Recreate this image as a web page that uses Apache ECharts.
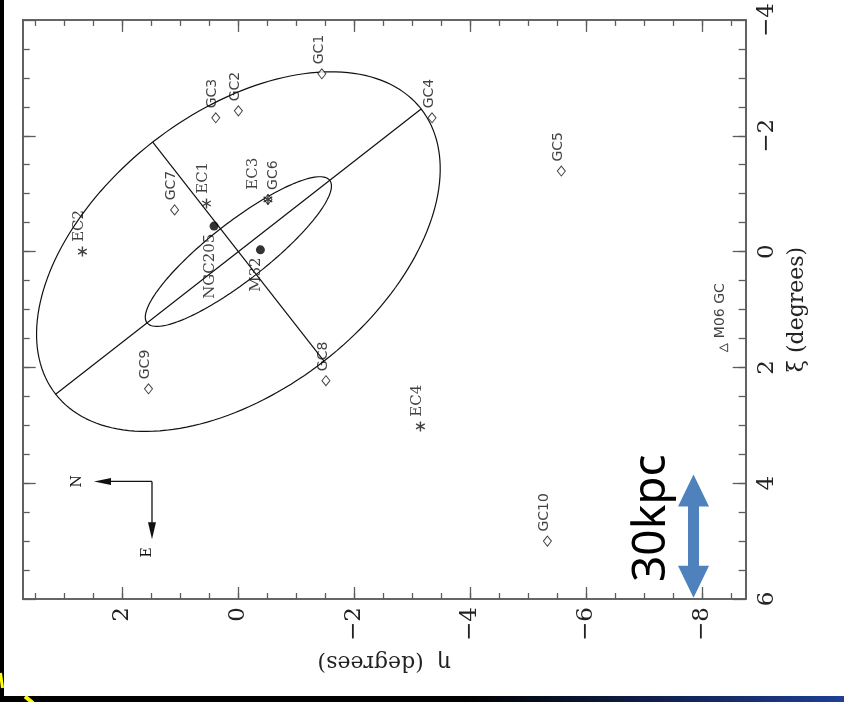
<!DOCTYPE html>
<html><head><meta charset="utf-8">
<script src="https://cdn.jsdelivr.net/npm/echarts@6/dist/echarts.min.js"></script>
<style>html,body{margin:0;padding:0;background:#000;} #c{width:844px;height:702px;}</style>
</head><body><div id="c"></div>
<script>
// ---------------- data (degrees) ----------------
const gcNames = ['GC1','GC2','GC3','GC4','GC5','GC6','GC7','GC8','GC9','GC10'];
const gcEta   = [-1.44, 0.00, 0.39, -3.34, -5.57, -0.51, 1.10, -1.51, 1.55, -5.33];
const gcXi    = [-3.07, -2.43, -2.31, -2.31, -1.39, -0.90, -0.72, 2.23, 2.37, 5.00];
const ecNames = ['EC1','EC2','EC3','EC4'];
const ecEta   = [0.55, 2.69, -0.51, -3.14];
const ecXi    = [-0.83, 0.00, -0.90, 3.02];
const galNames = ['NGC205','M32'];
const galEta   = [0.42, -0.38];
const galXi    = [-0.44, -0.03];
const m06Names = ['M06 GC'];
const m06Eta   = [-8.37];
const m06Xi    = [1.66];
// ellipses: outer halo & inner disk (semi-axes in degrees, position angle in degrees)
const ellipseSemiMajor = [4.0, 2.0];
const ellipseSemiMinor = [2.4, 0.5];
const ellipsePA = 38;
// axes
const etaRange = [-8.75, 3.72];
const xiRange  = [-4, 6];
const etaMajorTicks = [2, 0, -2, -4, -6, -8];
const xiMajorTicks  = [-4, -2, 0, 2, 4, 6];
// annotations
const compassOrigin = [1.49, 3.97];   // [eta, xi]
const compassLen = 1.0;               // degrees
const scaleBarEta = -7.85;
const scaleBarXi = [3.85, 5.98];
const scaleBarText = '30kpc';

// ---------------- helpers ----------------
const etaMinorTicks = []; for (let v = -8.5; v <= 3.5001; v += 0.5) etaMinorTicks.push(+v.toFixed(2));
const xiMinorTicks = [];  for (let v = -3.5; v <= 5.5001; v += 0.5) xiMinorTicks.push(+v.toFixed(2));
const fmt = v => (v < 0 ? '\u2212' + Math.abs(v) : String(v));
const frameColor = '#5c5c5c';
const serif = '"DejaVu Serif", "Liberation Serif", serif';
const sans = '"DejaVu Sans", sans-serif';

function mkAxis(pos, range, inverse, ticks, len, withLabels, extra) {
  const ax = {
    type: 'value', position: pos, min: range[0], max: range[1], inverse: inverse,
    axisLine: { show: true, onZero: false, lineStyle: { color: frameColor, width: 1.6 } },
    axisTick: { show: true, inside: true, length: len, customValues: ticks, lineStyle: { color: frameColor, width: 1.3 } },
    axisLabel: { show: false },
    splitLine: { show: false }
  };
  if (withLabels) {
    ax.axisLabel = { show: true, customValues: ticks, rotate: 90, margin: withLabels.margin,
      fontFamily: serif, fontSize: 23, color: '#222', formatter: fmt };
  }
  return Object.assign(ax, extra || {});
}

const xAxes = [
  mkAxis('bottom', etaRange, true, etaMajorTicks, 12, { margin: 8 }, {
    name: '\u03b7  (degrees)', nameLocation: 'middle', nameRotate: 180, nameGap: 52,
    nameTextStyle: { fontFamily: serif, fontSize: 22, color: '#222' } }),
  mkAxis('bottom', etaRange, true, etaMinorTicks, 6, null),
  mkAxis('top', etaRange, true, etaMajorTicks, 12, null),
  mkAxis('top', etaRange, true, etaMinorTicks, 6, null)
];
const yAxes = [
  mkAxis('right', xiRange, true, xiMajorTicks, 13, { margin: 10 }, {
    name: '\u03be (degrees)', nameLocation: 'middle', nameRotate: 90, nameGap: 38,
    nameTextStyle: { fontFamily: serif, fontSize: 22, color: '#222' } }),
  mkAxis('right', xiRange, true, xiMinorTicks, 7, null),
  mkAxis('left', xiRange, true, xiMajorTicks, 13, null),
  mkAxis('left', xiRange, true, xiMinorTicks, 7, null)
];

function ellipsePts(a, b, pa) {
  const s = Math.sin(pa * Math.PI / 180), c = Math.cos(pa * Math.PI / 180), pts = [];
  for (let i = 0; i <= 360; i += 2) {
    const t = i * Math.PI / 180, u = a * Math.cos(t), w = b * Math.sin(t);
    pts.push([u * c - w * s, u * s + w * c]);   // [eta, xi]
  }
  return pts;
}
const sPA = Math.sin(ellipsePA * Math.PI / 180), cPA = Math.cos(ellipsePA * Math.PI / 180);
const A0 = ellipseSemiMajor[0], B0 = ellipseSemiMinor[0];
const majorLine = [[-A0 * cPA, -A0 * sPA], [A0 * cPA, A0 * sPA]];
const minorLine = [[B0 * sPA, -B0 * cPA], [-B0 * sPA, B0 * cPA]];

const labelShift = { EC3: [0, -15], GC6: [0, 5] };
function items(names, eta, xi) {
  return names.map((n, i) => {
    const it = { name: n, value: [eta[i], xi[i]] };
    if (labelShift[n]) it.label = { offset: labelShift[n] };
    return it;
  });
}
const upLabel = (font, size, dist) => ({
  show: true, formatter: '{b}', position: 'top', distance: dist, rotate: 90,
  align: 'left', verticalAlign: 'middle', offset: [0, -3],
  fontFamily: font, fontSize: size, color: '#111'
});
const lineStyle = { color: '#111', width: 1.2 };
const lineSeries = (data) => ({ type: 'line', data: data, symbol: 'none', silent: true,
  lineStyle: lineStyle, xAxisIndex: 0, yAxisIndex: 0, z: 2, animation: false });
const asteriskPath = 'path://M5,0L5,10M0.67,2.5L9.33,7.5M0.67,7.5L9.33,2.5';

const series = [
  lineSeries(ellipsePts(ellipseSemiMajor[0], ellipseSemiMinor[0], ellipsePA)),
  lineSeries(ellipsePts(ellipseSemiMajor[1], ellipseSemiMinor[1], ellipsePA)),
  lineSeries(majorLine),
  lineSeries(minorLine),
  { type: 'scatter', data: items(gcNames, gcEta, gcXi), symbol: 'diamond', symbolSize: [8, 10],
    itemStyle: { color: '#fff', borderColor: '#111', borderWidth: 1 }, label: upLabel(sans, 14, 4), z: 5 },
  { type: 'scatter', data: items(ecNames, ecEta, ecXi), symbol: asteriskPath, symbolSize: 10, symbolKeepAspect: true,
    itemStyle: { color: 'rgba(0,0,0,0)', borderColor: '#111', borderWidth: 1.4 }, label: upLabel(serif, 15, 4), z: 6 },
  { type: 'scatter', data: items(galNames, galEta, galXi), symbol: 'circle', symbolSize: 9,
    itemStyle: { color: '#000' }, z: 6,
    label: { show: true, formatter: '{b}', position: 'bottom', distance: 3, rotate: 90,
      align: 'right', verticalAlign: 'middle', offset: [0, -4], fontFamily: serif, fontSize: 15, color: '#111' } },
  { type: 'scatter', data: items(m06Names, m06Eta, m06Xi), symbol: 'triangle', symbolSize: 8, symbolRotate: 90,
    itemStyle: { color: '#fff', borderColor: '#111', borderWidth: 1 }, label: upLabel(sans, 14, 5), z: 5 }
];

const chart = echarts.init(document.getElementById('c'), null, { renderer: 'canvas', width: 844, height: 702 });
chart.setOption({
  animation: false,
  backgroundColor: 'transparent',
  grid: { left: 22.7, right: 98.3, top: 19, bottom: 103, containLabel: false },
  xAxis: xAxes,
  yAxis: yAxes,
  series: series
});

// ---------------- decorations ----------------
const P = (eta, xi) => chart.convertToPixel({ xAxisIndex: 0, yAxisIndex: 0 }, [eta, xi]);
const O = P(compassOrigin[0], compassOrigin[1]);
const Nt = P(compassOrigin[0] + compassLen, compassOrigin[1]);
const Et = P(compassOrigin[0], compassOrigin[1] + compassLen);
const T = P(scaleBarEta, scaleBarXi[0]);
const Bt = P(scaleBarEta, scaleBarXi[1]);
const xc = T[0], hl = 32, hw = 15.5, sw = 5.5;
const arrowPts = [[xc, T[1]], [xc + hw, T[1] + hl], [xc + sw, T[1] + hl], [xc + sw, Bt[1] - hl], [xc + hw, Bt[1] - hl],
  [xc, Bt[1]], [xc - hw, Bt[1] - hl], [xc - sw, Bt[1] - hl], [xc - sw, T[1] + hl], [xc - hw, T[1] + hl]];
const bottomGradient = { type: 'linear', x: 0, y: 0, x2: 1, y2: 0, colorStops: [
  { offset: 0, color: '#000' }, { offset: 0.55, color: '#000' }, { offset: 1, color: '#1f3f96' }] };

chart.setOption({
  graphic: [
    { type: 'rect', z: -20, silent: true, shape: { x: 0, y: 0, width: 844, height: 702 }, style: { fill: '#000' } },
    { type: 'rect', z: -19, silent: true, shape: { x: 4, y: 0, width: 840, height: 696 }, style: { fill: '#fff' } },
    { type: 'rect', z: -18, silent: true, shape: { x: 0, y: 696, width: 844, height: 6 }, style: { fill: bottomGradient } },
    { type: 'line', z: -17, silent: true, shape: { x1: 0.5, y1: 673, x2: 2.5, y2: 688 },
      style: { stroke: '#ffff00', lineWidth: 3 } },
    { type: 'line', z: -17, silent: true, shape: { x1: 25, y1: 696.5, x2: 33, y2: 703 },
      style: { stroke: '#ffff00', lineWidth: 4 } },
    // compass
    { type: 'line', silent: true, z: 10, shape: { x1: O[0], y1: O[1], x2: Nt[0] + 12, y2: Nt[1] }, style: { stroke: '#111', lineWidth: 1.3 } },
    { type: 'polygon', silent: true, z: 10, shape: { points: [[Nt[0], Nt[1]], [Nt[0] + 17, Nt[1] - 3.5], [Nt[0] + 17, Nt[1] + 3.5]] }, style: { fill: '#111' } },
    { type: 'line', silent: true, z: 10, shape: { x1: O[0], y1: O[1], x2: Et[0], y2: Et[1] - 12 }, style: { stroke: '#111', lineWidth: 1.3 } },
    { type: 'polygon', silent: true, z: 10, shape: { points: [[Et[0], Et[1]], [Et[0] - 4, Et[1] - 17], [Et[0] + 4, Et[1] - 17]] }, style: { fill: '#111' } },
    { type: 'text', silent: true, z: 10, x: Nt[0] - 17, y: Nt[1], rotation: Math.PI / 2,
      style: { text: 'N', fontFamily: serif, fontSize: 14, fill: '#111', align: 'center', verticalAlign: 'middle' } },
    { type: 'text', silent: true, z: 10, x: Et[0] - 5, y: Et[1] + 13, rotation: Math.PI / 2,
      style: { text: 'E', fontFamily: serif, fontSize: 14, fill: '#111', align: 'center', verticalAlign: 'middle' } },
    // 30 kpc scale bar
    { type: 'polygon', silent: true, z: 10, shape: { points: arrowPts }, style: { fill: '#4f81bd' } },
    { type: 'text', silent: true, z: 10, x: xc - 42, y: (T[1] + Bt[1]) / 2 - 18, rotation: Math.PI / 2,
      style: { text: scaleBarText, fontFamily: '"Noto Sans", "Open Sans", sans-serif', fontSize: 46, fill: '#000',
        align: 'center', verticalAlign: 'middle' } }
  ]
});
</script>
</body></html>
